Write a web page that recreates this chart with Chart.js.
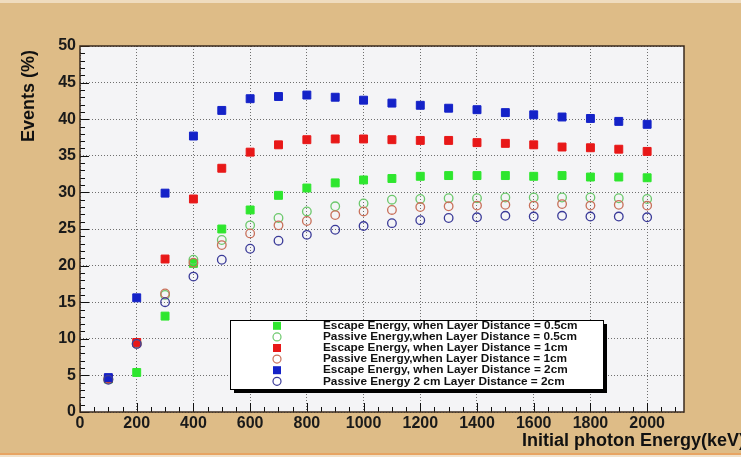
<!DOCTYPE html>
<html><head><meta charset="utf-8">
<script src="https://cdn.jsdelivr.net/npm/chart.js@4/dist/chart.umd.min.js"></script>
<style>html,body{margin:0;padding:0;background:#debc87;overflow:hidden}#wrap{width:741px;height:457px;position:relative}</style>
</head><body><div id="wrap"><canvas id="c" width="741" height="457"></canvas></div>
<script>
const energies = [100,200,300,400,500,600,700,800,900,1000,1100,1200,1300,1400,1500,1600,1700,1800,1900,2000];
const escape05 = [4.5,5.4,13.1,20.3,25.0,27.6,29.6,30.6,31.3,31.7,31.9,32.2,32.3,32.3,32.3,32.2,32.3,32.1,32.1,32.0];
const passive05 = [4.5,9.4,16.0,20.8,23.5,25.5,26.5,27.4,28.1,28.5,29.0,29.1,29.2,29.2,29.3,29.3,29.3,29.3,29.2,29.1];
const escape1 = [4.6,9.5,20.9,29.1,33.3,35.5,36.5,37.2,37.3,37.3,37.2,37.1,37.1,36.8,36.7,36.5,36.2,36.1,35.9,35.6];
const passive1 = [4.5,9.3,16.2,20.4,22.8,24.4,25.5,26.1,26.9,27.4,27.6,28.0,28.1,28.2,28.3,28.2,28.4,28.2,28.3,28.2];
const escape2 = [4.7,15.6,29.9,37.7,41.2,42.8,43.1,43.3,43.0,42.6,42.2,41.9,41.5,41.3,40.9,40.6,40.3,40.1,39.7,39.3];
const passive2 = [4.4,9.3,15.0,18.5,20.8,22.3,23.4,24.2,24.9,25.4,25.8,26.2,26.5,26.6,26.8,26.7,26.8,26.7,26.7,26.6];
const seriesLabels = [
  "Escape Energy, when Layer Distance = 0.5cm",
  "Passive Energy,when Layer Distance = 0.5cm",
  "Escape Energy, when Layer Distance = 1cm",
  "Passive Energy,when Layer Distance = 1cm",
  "Escape Energy, when Layer Distance = 2cm",
  "Passive Energy 2 cm Layer Distance = 2cm"
];
const xTicks = [0,200,400,600,800,1000,1200,1400,1600,1800,2000];
const yTicks = [0,5,10,15,20,25,30,35,40,45,50];
const xTitle = "Initial photon Energy(keV)";
const yTitle = "Events (%)";

const FONT = "'Liberation Sans', Arial, Helvetica, sans-serif";
const styles = [
  {shape:'rect', color:'#2ee62e'},
  {shape:'circle', color:'#6cc86c'},
  {shape:'rect', color:'#e81818'},
  {shape:'circle', color:'#c8705a'},
  {shape:'rect', color:'#1422c8'},
  {shape:'circle', color:'#3a3a98'}
];
const allSeries = [escape05, passive05, escape1, passive1, escape2, passive2];
const datasets = allSeries.map((vals, i) => {
  const s = styles[i];
  const filled = s.shape === 'rect';
  return {
    label: seriesLabels[i],
    data: energies.map((e, k) => ({x: e, y: vals[k]})),
    pointStyle: s.shape,
    pointRadius: filled ? 5.6 : 4.3,
    pointHoverRadius: filled ? 5.6 : 4.3,
    pointBackgroundColor: filled ? s.color : 'rgba(0,0,0,0)',
    pointBorderColor: s.color,
    pointBorderWidth: filled ? 1 : 1.3,
    showLine: false,
    order: 6 - i
  };
});

const decor = {
  id: 'decor',
  beforeDraw(chart) {
    const {ctx, chartArea: a} = chart;
    ctx.save();
    ctx.fillStyle = '#debc87';
    ctx.fillRect(0, 0, chart.width, chart.height);
    ctx.fillStyle = '#efdcbf';
    ctx.fillRect(0, 0, chart.width, 3);
    ctx.fillStyle = '#e7a463';
    ctx.fillRect(0, 453, chart.width, 2);
    ctx.fillStyle = '#f0e2cc';
    ctx.fillRect(0, 455, chart.width, 2);
    ctx.fillStyle = '#f4f4f6';
    ctx.fillRect(a.left, a.top, a.right - a.left, a.bottom - a.top);
    ctx.restore();
  },
  afterDraw(chart) {
    const {ctx, chartArea: a, scales: {x, y}} = chart;
    ctx.save();
    ctx.strokeStyle = '#111';
    ctx.lineWidth = 1;
    ctx.beginPath();
    for (let v = 0; v <= 50; v += 1) {
      const py = Math.round(y.getPixelForValue(v)) + 0.5;
      const len = (v % 5 === 0) ? 9 : 5;
      ctx.moveTo(a.left, py); ctx.lineTo(a.left + len, py);
    }
    for (let v = 0; v <= 2100; v += 50) {
      const px = Math.round(x.getPixelForValue(v)) + 0.5;
      if (px > a.right) break;
      const len = (v % 200 === 0) ? 9 : 5;
      ctx.moveTo(px, a.bottom); ctx.lineTo(px, a.bottom - len);
    }
    ctx.stroke();
    ctx.strokeStyle = '#3a2a1e';
    ctx.lineWidth = 1.5;
    ctx.strokeRect(a.left, a.top, a.right - a.left, a.bottom - a.top);
    ctx.fillStyle = '#111';
    ctx.font = 'bold 18px ' + FONT;
    ctx.textAlign = 'right';
    ctx.textBaseline = 'middle';
    ctx.fillText(xTitle, 745, 441);
    ctx.save();
    ctx.translate(29, 50);
    ctx.rotate(-Math.PI / 2);
    ctx.font = 'bold 18px ' + FONT;
    ctx.textAlign = 'right';
    ctx.fillText(yTitle, 0, 0);
    ctx.restore();
    const L = 230, T = 320, W = 373, H = 69;
    ctx.fillStyle = '#000';
    ctx.fillRect(L + 4, T + 4, W, H);
    ctx.fillStyle = '#fff';
    ctx.fillRect(L, T, W, H);
    ctx.strokeStyle = '#000';
    ctx.lineWidth = 1;
    ctx.strokeRect(L + 0.5, T + 0.5, W, H);
    ctx.font = 'bold 11.8px ' + FONT;
    ctx.textAlign = 'left';
    ctx.textBaseline = 'middle';
    seriesLabels.forEach((lab, i) => {
      const cy = 325.8 + i * 11.1;
      const s = styles[i];
      if (s.shape === 'rect') {
        ctx.fillStyle = s.color;
        ctx.fillRect(273, cy - 4, 8, 8);
      } else {
        ctx.strokeStyle = s.color;
        ctx.lineWidth = 1.2;
        ctx.beginPath();
        ctx.arc(277, cy, 4, 0, Math.PI * 2);
        ctx.stroke();
      }
      ctx.fillStyle = '#111';
      ctx.fillText(lab, 323, cy);
    });
    ctx.restore();
  }
};

new Chart(document.getElementById('c'), {
  type: 'scatter',
  data: {datasets},
  options: {
    responsive: false,
    animation: false,
    devicePixelRatio: 1,
    layout: {padding: {left: 0, top: 46, right: 57, bottom: 0}},
    plugins: {legend: {display: false}, tooltip: {enabled: false}},
    scales: {
      x: {
        type: 'linear', min: 0, max: 2130,
        afterBuildTicks: s => { s.ticks = xTicks.map(v => ({value: v})); },
        afterFit: s => { s.height = 45; },
        grid: {color: '#6f6f6f', lineWidth: 1, drawTicks: false},
        border: {display: false, dash: [1, 2]},
        ticks: {color: '#1a1a1a', padding: 2, maxRotation: 0, autoSkip: false,
          callback: v => String(v),
          font: {family: FONT, size: 16, weight: 'bold'}}
      },
      y: {
        type: 'linear', min: 0, max: 50,
        afterBuildTicks: s => { s.ticks = yTicks.map(v => ({value: v})); },
        afterFit: s => { s.width = 80; },
        grid: {color: '#6f6f6f', lineWidth: 1, drawTicks: false},
        border: {display: false, dash: [1, 2]},
        ticks: {color: '#1a1a1a', padding: 4, autoSkip: false,
          callback: v => String(v),
          font: {family: FONT, size: 16, weight: 'bold'}}
      }
    }
  },
  plugins: [decor]
});
</script>
</body></html>
